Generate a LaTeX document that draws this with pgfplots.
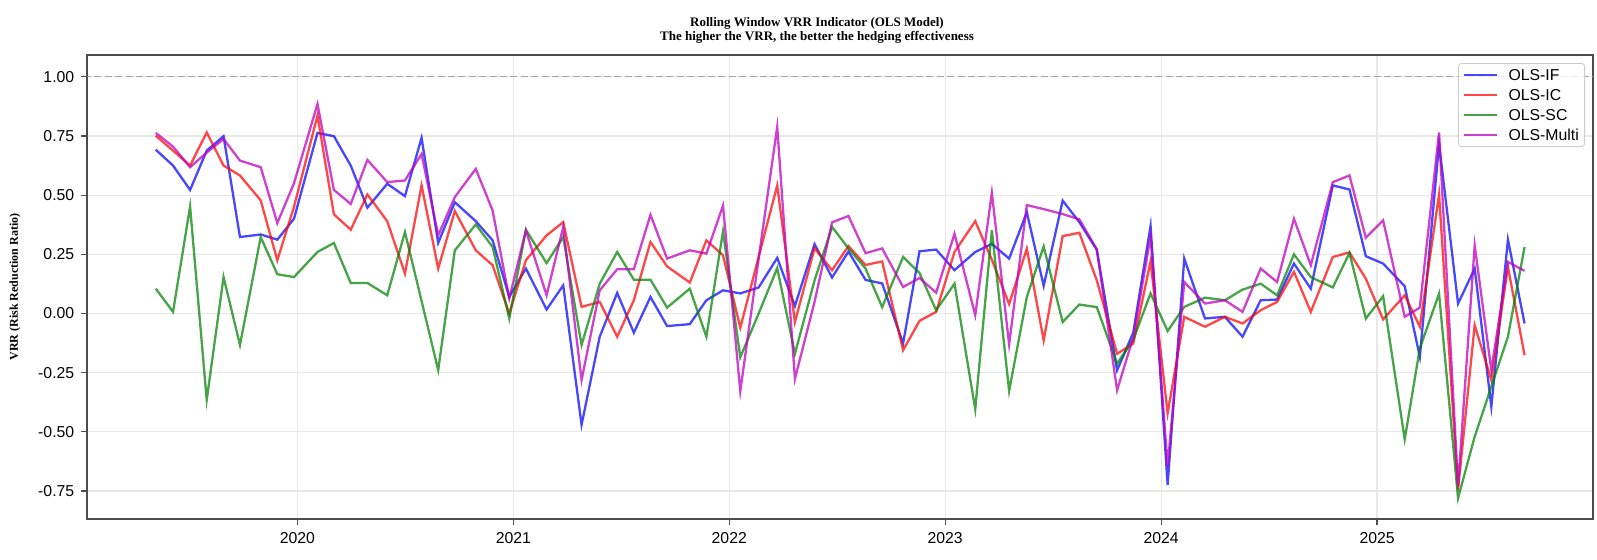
\documentclass[border=0pt]{standalone}
\usepackage{fontspec}
\setmainfont{Liberation Sans}
\newfontfamily\tnr{Liberation Serif}
\usepackage{pgfplots}
\pgfplotsset{compat=1.18}
\usepackage{pgfplotstable}
\definecolor{mplmag}{RGB}{191,0,191}
\definecolor{mplgreen}{RGB}{0,128,0}

\pgfplotstableread{
x IF IC SC Multi
2019.344 0.692 0.751 0.105 0.763
2019.424 0.625 0.688 0.007 0.705
2019.503 0.522 0.625 0.452 0.618
2019.580 0.688 0.765 -0.365 0.680
2019.658 0.749 0.625 0.154 0.737
2019.734 0.323 0.583 -0.133 0.646
2019.830 0.334 0.478 0.323 0.618
2019.907 0.312 0.225 0.166 0.382
2019.984 0.400 0.450 0.154 0.550
2020.093 0.763 0.836 0.260 0.885
2020.169 0.749 0.419 0.298 0.522
2020.247 0.625 0.354 0.129 0.463
2020.324 0.447 0.503 0.129 0.649
2020.416 0.548 0.390 0.077 0.555
2020.498 0.496 0.169 0.344 0.562
2020.575 0.742 0.541 0.053 0.674
2020.652 0.298 0.190 -0.239 0.330
2020.729 0.470 0.433 0.267 0.492
2020.826 0.390 0.267 0.376 0.611
2020.904 0.309 0.204 0.281 0.435
2020.981 0.070 0.000 -0.021 0.063
2021.058 0.190 0.225 0.354 0.351
2021.154 0.017 0.330 0.213 0.077
2021.231 0.119 0.386 0.323 0.365
2021.316 -0.470 0.028 -0.133 -0.281
2021.400 -0.098 0.049 0.126 0.098
2021.481 0.087 -0.098 0.260 0.187
2021.558 -0.081 0.056 0.143 0.187
2021.635 0.070 0.302 0.143 0.417
2021.712 -0.053 0.199 0.025 0.232
2021.817 -0.045 0.131 0.105 0.267
2021.894 0.056 0.309 -0.098 0.253
2021.971 0.098 0.246 0.347 0.456
2022.051 0.085 -0.060 -0.185 -0.328
2022.136 0.110 0.239 0.000 0.232
2022.222 0.235 0.541 0.192 0.789
2022.304 0.032 -0.036 -0.170 -0.276
2022.395 0.293 0.276 0.140 0.050
2022.476 0.152 0.183 0.366 0.385
2022.552 0.262 0.285 0.275 0.412
2022.631 0.142 0.205 0.190 0.255
2022.708 0.127 0.220 0.027 0.275
2022.805 -0.126 -0.155 0.239 0.112
2022.881 0.263 -0.031 0.171 0.150
2022.958 0.270 0.007 0.014 0.088
2023.043 0.183 0.260 0.126 0.337
2023.139 0.260 0.390 -0.404 -0.007
2023.216 0.294 0.227 0.352 0.510
2023.296 0.232 0.040 -0.327 -0.130
2023.378 0.428 0.274 0.070 0.458
2023.456 0.117 -0.113 0.283 0.441
2023.544 0.477 0.327 -0.036 0.420
2023.621 0.386 0.341 0.038 0.398
2023.702 0.269 0.140 0.027 0.271
2023.796 -0.240 -0.170 -0.212 -0.324
2023.871 -0.080 -0.127 -0.110 -0.100
2023.951 0.370 0.220 0.085 0.325
2024.030 -0.723 -0.421 -0.074 -0.646
2024.107 0.232 -0.014 0.028 0.133
2024.203 -0.021 -0.056 0.067 0.042
2024.295 -0.014 -0.014 0.056 0.056
2024.377 -0.098 -0.042 0.101 0.007
2024.461 0.056 0.014 0.126 0.190
2024.537 0.059 0.049 0.077 0.133
2024.615 0.211 0.176 0.250 0.400
2024.693 0.105 0.007 0.154 0.204
2024.795 0.541 0.239 0.110 0.555
2024.872 0.524 0.258 0.256 0.583
2024.948 0.242 0.147 -0.021 0.320
2025.028 0.211 -0.025 0.073 0.393
2025.128 0.115 0.077 -0.531 -0.014
2025.198 -0.183 -0.056 -0.147 0.025
2025.287 0.716 0.503 0.084 0.765
2025.375 0.042 -0.744 -0.780 -0.730
2025.452 0.190 -0.049 -0.520 0.288
2025.529 -0.393 -0.281 -0.309 -0.239
2025.606 0.312 0.197 -0.098 0.218
2025.683 -0.042 -0.176 0.281 0.180
}\vrr

\begin{document}
\begin{tikzpicture}
\useasboundingbox (-43.65pt,-20pt) rectangle (754.85pt,259.5pt);
\begin{axis}[
  at={(0pt,0pt)}, anchor=south west,
  scale only axis, width=752.85pt, height=232pt,
  xmin=2019.027, xmax=2026.0, ymin=-0.868, ymax=1.092,
  xtick={2020,2021,2022,2023,2024,2025},
  xticklabels={2020,2021,2022,2023,2024,2025},
  ytick={-0.75,-0.5,-0.25,0,0.25,0.5,0.75,1},
  yticklabels={-0.75,-0.50,-0.25,0.00,0.25,0.50,0.75,1.00},
  tick label style={font=\fontsize{7.9}{9}\selectfont},
  tick pos=left, tick align=outside,
  major tick length=3pt,
  tick style={black!70, line width=0.6pt},
  axis line style={black!70, line width=0.9pt},
  grid=major,
  major grid style={black!9, line width=0.6pt},
  legend style={at={(1,1)}, anchor=north east, xshift=-4pt, yshift=-4pt,
    draw=black!20, rounded corners=1.5pt, fill=white, fill opacity=0.8, text opacity=1,
    font=\fontsize{7.9}{9}\selectfont, inner sep=2pt, row sep=2.4pt,
    nodes={inner sep=0.9pt, text height=5.6pt, text depth=0.2pt},
    /tikz/every odd column/.append style={column sep=4.2pt}},
  legend cell align=left,
  legend image code/.code={\draw[#1, line width=1.4pt] (0pt,0pt) -- (16.5pt,0pt);},
]
\addplot[black!35, dash pattern=on 3.5pt off 1.7pt, line width=0.7pt, forget plot] coordinates {(2018,1) (2027,1)};
\addplot[blue, opacity=0.72, line width=1.15pt, mark=none] table[x=x,y=IF]{\vrr};
\addplot[red, opacity=0.72, line width=1.15pt, mark=none] table[x=x,y=IC]{\vrr};
\addplot[mplgreen, opacity=0.72, line width=1.15pt, mark=none] table[x=x,y=SC]{\vrr};
\addplot[mplmag, opacity=0.75, line width=1.15pt, mark=none] table[x=x,y=Multi]{\vrr};
\legend{OLS-IF,OLS-IC,OLS-SC,OLS-Multi}
\end{axis}
\node[font=\tnr\bfseries\fontsize{6.5}{7}\selectfont, align=center] at (364.85pt,244.5pt) {Rolling Window VRR Indicator (OLS Model)\\The higher the VRR, the better the hedging effectiveness};
\node[rotate=90, font=\tnr\bfseries\fontsize{6}{7}\selectfont] at (-36.15pt,116pt) {VRR (Risk Reduction Ratio)};
\end{tikzpicture}
\end{document}
